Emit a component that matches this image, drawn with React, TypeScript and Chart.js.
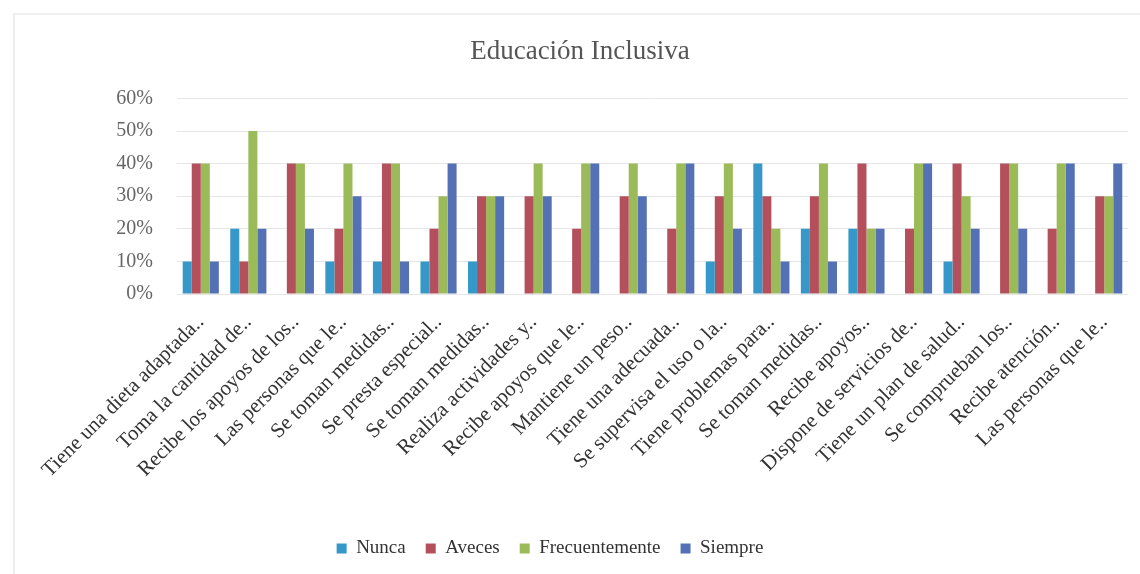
import React, { useEffect, useRef } from "react";
import { Chart, registerables } from "chart.js";

Chart.register(...registerables);

const title = "Educación Inclusiva";

const categories = [
  "Tiene una dieta adaptada..",
  "Toma la cantidad de..",
  "Recibe los apoyos de los..",
  "Las personas que le..",
  "Se toman medidas..",
  "Se presta especial..",
  "Se toman medidas..",
  "Realiza actividades y..",
  "Recibe apoyos que le..",
  "Mantiene un peso..",
  "Tiene una adecuada..",
  "Se supervisa el uso o la..",
  "Tiene problemas para..",
  "Se toman medidas..",
  "Recibe apoyos..",
  "Dispone de servicios de..",
  "Tiene un plan de salud..",
  "Se comprueban los..",
  "Recibe atención..",
  "Las personas que le..",
];

const seriesNames = ["Nunca", "Aveces", "Frecuentemente", "Siempre"];

const nunca = [10, 20, 0, 10, 10, 10, 10, 0, 0, 0, 0, 10, 40, 20, 20, 0, 10, 0, 0, 0];
const aveces = [40, 10, 40, 20, 40, 20, 30, 30, 20, 30, 20, 30, 30, 30, 40, 20, 40, 40, 20, 30];
const frecuentemente = [40, 50, 40, 40, 40, 30, 30, 40, 40, 40, 40, 40, 20, 40, 20, 40, 30, 40, 40, 30];
const siempre = [10, 20, 20, 30, 10, 40, 30, 30, 40, 30, 40, 20, 10, 10, 20, 40, 20, 20, 40, 40];

const yTicks = [0, 10, 20, 30, 40, 50, 60];

const colors = ["#3598c9", "#b4505c", "#9bbb59", "#5571b5"];

const SERIF = "'Liberation Serif', 'DejaVu Serif', serif";

export default function App() {
  const canvasRef = useRef<HTMLCanvasElement | null>(null);

  useEffect(() => {
    document.body.style.margin = "0";
    const canvas = canvasRef.current;
    if (!canvas) return;

    const shiftPlugin = {
      id: "shiftBlocks",
      afterLayout(chart: any) {
        if (chart.legend) {
          chart.legend.left -= 14;
          chart.legend.right -= 14;
        }
        if (chart.titleBlock) {
          chart.titleBlock.left += 16;
          chart.titleBlock.right += 16;
        }
      },
    };

    const values = [nunca, aveces, frecuentemente, siempre];

    const chart = new Chart(canvas, {
      type: "bar",
      data: {
        labels: categories,
        datasets: seriesNames.map((name, i) => ({
          label: name,
          data: values[i],
          backgroundColor: colors[i],
          borderWidth: 0,
          barPercentage: 1,
          categoryPercentage: 0.76,
        })),
      },
      plugins: [shiftPlugin],
      options: {
        animation: false,
        responsive: false,
        maintainAspectRatio: false,
        layout: { padding: { left: 0, right: 12, top: 0, bottom: 6 } },
        plugins: {
          title: {
            display: true,
            text: title,
            color: "#555555",
            font: { family: SERIF, size: 27, weight: "normal" },
            padding: { top: 36, bottom: 30 },
          },
          legend: {
            display: true,
            position: "bottom",
            labels: {
              color: "#333333",
              font: { family: SERIF, size: 19 },
              boxWidth: 10,
              boxHeight: 10,
              padding: 20,
            },
          },
          tooltip: { enabled: false },
        },
        scales: {
          x: {
            afterFit(scale: any) {
              scale.height = 225;
            },
            grid: { display: false, drawTicks: false },
            border: { display: false },
            ticks: {
              autoSkip: false,
              maxRotation: 45,
              minRotation: 45,
              padding: 16,
              color: "#333333",
              font: { family: SERIF, size: 21 },
            },
          },
          y: {
            min: 0,
            max: 60,
            afterFit(scale: any) {
              scale.width = 177;
            },
            afterBuildTicks(scale: any) {
              scale.ticks = yTicks.map((v) => ({ value: v }));
            },
            grid: { color: "#e6e6e6", drawTicks: false },
            border: { display: false },
            ticks: {
              padding: 24,
              color: "#666666",
              font: { family: SERIF, size: 20 },
              callback: (v: any) => `${v}%`,
            },
          },
        },
      },
    });

    return () => {
      chart.destroy();
    };
  }, []);

  return (
    <div style={{ position: "relative", width: 1140, height: 574, background: "#ffffff" }}>
      <div
        style={{
          position: "absolute",
          left: 13,
          top: 13,
          width: 1127,
          height: 561,
          borderLeft: "2px solid #ececec",
          borderTop: "2px solid #f0f0f0",
          boxSizing: "border-box",
        }}
      />
      <canvas ref={canvasRef} width={1140} height={574} style={{ position: "absolute", left: 0, top: 0 }} />
    </div>
  );
}
